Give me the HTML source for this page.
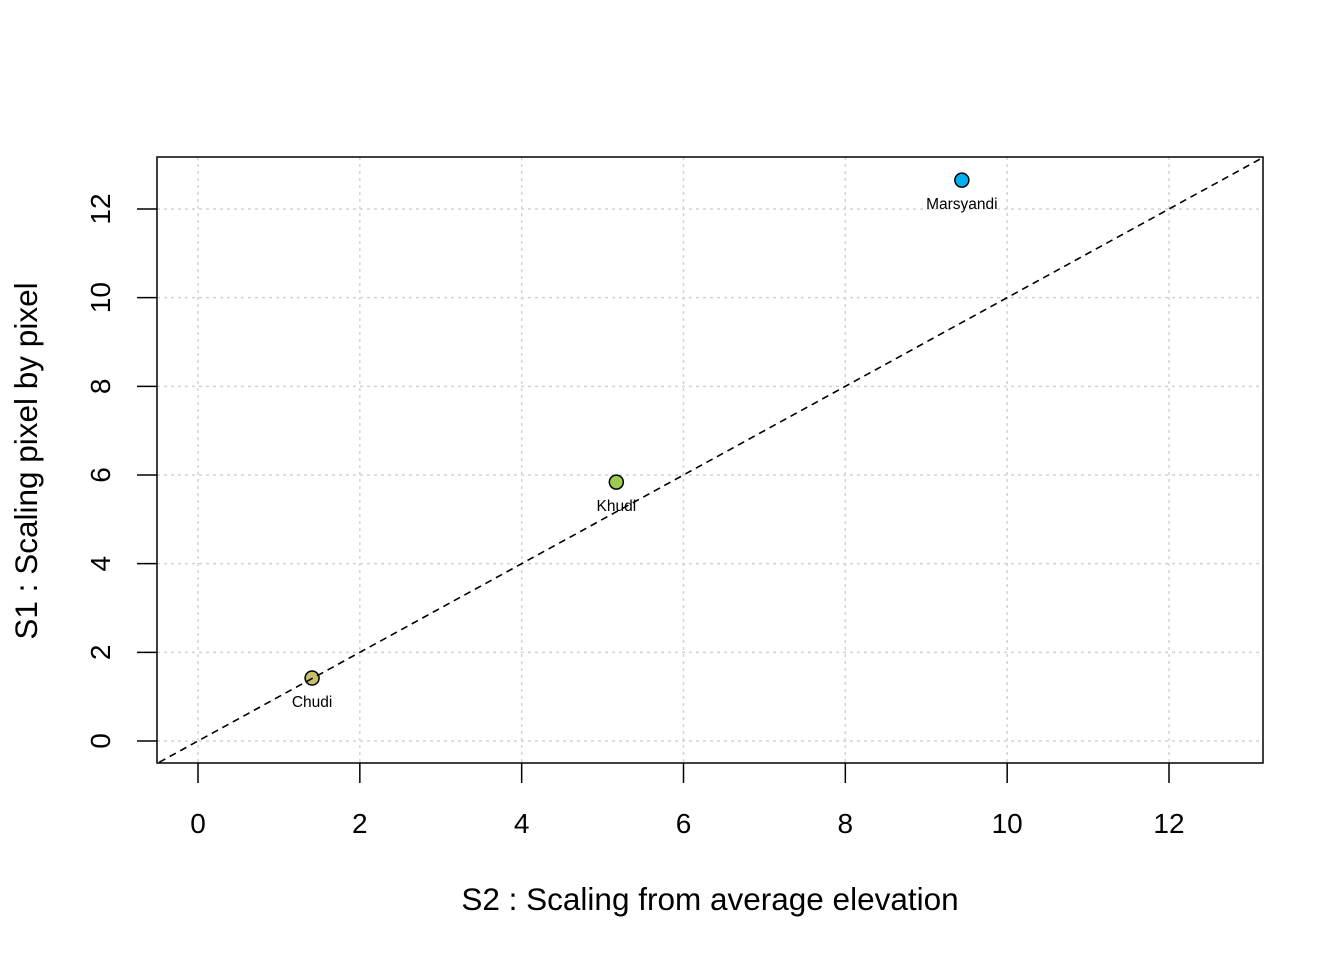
<!DOCTYPE html>
<html><head><meta charset="utf-8"><style>
html,body{margin:0;padding:0;background:#fff}
svg{display:block;font-family:"Liberation Sans",Arial,sans-serif}
</style></head><body>
<svg id="chart" width="1344" height="960" viewBox="0 0 1344 960"></svg>
<script>
const names = ["Chudi","Khudi","Marsyandi"];
const xVals = [1.41, 5.17, 9.44];
const yVals = [1.42, 5.84, 12.65];
const colors = ["#C8BE6A","#9BCB4F","#00B0F0"];
const xTicks = [0,2,4,6,8,10,12];
const yTicks = [0,2,4,6,8,10,12];

const NS="http://www.w3.org/2000/svg";
const svg=document.getElementById('chart');
const L=157,R=1263,T=157,B=763;
const sx=v=>198+(v-0)*(1169-198)/12;
const sy=v=>741-(v-0)*(741-209)/12;
function el(tag,attrs,parent){const e=document.createElementNS(NS,tag);for(const k in attrs)e.setAttribute(k,attrs[k]);(parent||svg).appendChild(e);return e;}

const grid=el('g',{});


xTicks.forEach(t=>{const l=el('line',{x1:sx(t),x2:sx(t),y1:T,y2:B,stroke:'#d3d3d3','stroke-width':1.5,'stroke-dasharray':'3 4'},grid);

});
yTicks.forEach(t=>{const l=el('line',{x1:L,x2:R,y1:sy(t),y2:sy(t),stroke:'#d3d3d3','stroke-width':1.5,'stroke-dasharray':'3 4'},grid);

});

names.forEach((n,i)=>{
  const c=el('circle',{cx:sx(xVals[i]),cy:sy(yVals[i]),r:7,fill:colors[i],stroke:'#000','stroke-width':1.5});
  
  
  const t=el('text',{x:sx(xVals[i]),y:sy(yVals[i])+29,'text-anchor':'middle','font-size':15.5});
  t.textContent=n;
  
  
});

const cp=el('clipPath',{id:'cp'});el('rect',{x:L,y:T,width:R-L,height:B-T},cp);
const ab=el('line',{x1:sx(-1),y1:sy(-1),x2:sx(14),y2:sy(14),stroke:'#000','stroke-width':1.6,'stroke-dasharray':'7 5','clip-path':'url(#cp)'});



const box=el('rect',{x:L,y:T,width:R-L,height:B-T,fill:'none',stroke:'#000','stroke-width':1.5});



xTicks.forEach(t=>{
  const l=el('line',{x1:sx(t),x2:sx(t),y1:B,y2:B+20,stroke:'#000','stroke-width':1.5});
  
  
  const tx=el('text',{x:sx(t),y:833,'text-anchor':'middle','font-size':28});
  tx.textContent=t;
  
  
});
yTicks.forEach(t=>{
  const l=el('line',{x1:L-20,x2:L,y1:sy(t),y2:sy(t),stroke:'#000','stroke-width':1.5});
  
  
  const tx=el('text',{x:110,y:sy(t),'text-anchor':'middle','font-size':28,transform:`rotate(-90 110 ${sy(t)})`});
  tx.textContent=t;
  
  
});
const xt=el('text',{x:710,y:910,'text-anchor':'middle','font-size':31.5});
xt.textContent='S2 : Scaling from average elevation';


const yt=el('text',{x:37,y:461,'text-anchor':'middle','font-size':31.5,transform:'rotate(-90 37 461)'});
yt.textContent='S1 : Scaling pixel by pixel';


</script>
</body></html>
